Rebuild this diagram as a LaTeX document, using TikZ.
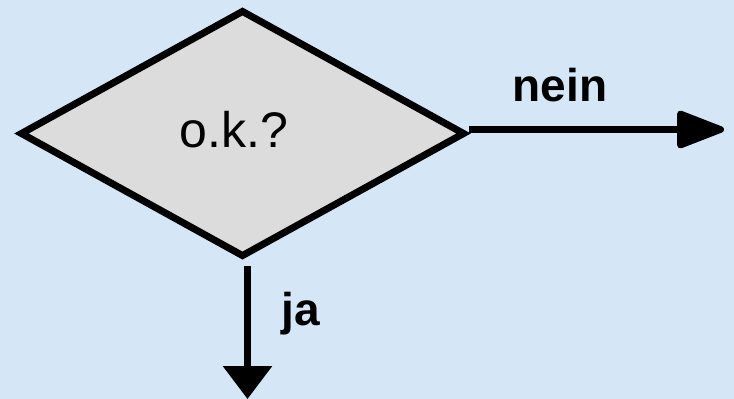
\documentclass[tikz,border=0pt]{standalone}
\usepackage{fontspec}
\setmainfont{Liberation Sans}
\usetikzlibrary{shapes.geometric,arrows.meta}
\definecolor{bgblue}{HTML}{D5E7F7}
\definecolor{boxgray}{HTML}{DCDCDC}
\tikzset{
  decision/.style={diamond, draw=black, fill=boxgray, line width=7pt,
    minimum width=445pt, minimum height=247pt, inner sep=0pt, miter limit=20},
  flowline/.style={draw=black, line width=6.5pt},
  lbl/.style={font=\fontsize{46}{50}\selectfont\bfseries, anchor=base, inner sep=0pt}
}
\begin{document}
\begin{tikzpicture}[x=1pt,y=-1pt]
  \fill[bgblue] (0,0) rectangle (734,399);
  \useasboundingbox (0,0) rectangle (734,399);
  \node[decision] (q) at (242.5,133.5) {};
  \node[anchor=base, inner sep=0pt, font=\fontsize{50}{56}\selectfont] (qt) at (234,147) {o.k.?};
  \coordinate (outR) at (724,129.5);
  \coordinate (outD) at (247.5,399);
  \draw[flowline, -{Triangle[length=53pt,width=39pt,round]}] ([yshift=4pt]q.east) -- (outR);
  \draw[flowline, -{Triangle[length=33pt,width=48pt]}] ([xshift=5pt,yshift=-5pt]q.south) -- (outD);
  \node[lbl] (nein) at (560,101) {nein};
  \node[lbl] (ja) at (301,325) {ja};
\end{tikzpicture}
\end{document}
